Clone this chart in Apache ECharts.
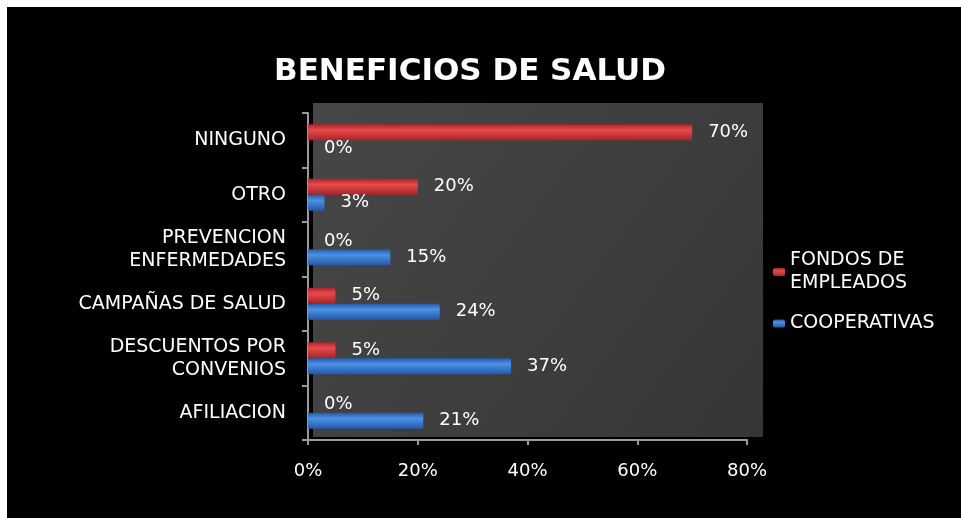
<!DOCTYPE html>
<html>
<head>
<meta charset="utf-8">
<script src="https://cdn.jsdelivr.net/npm/echarts@6/dist/echarts.min.js"></script>
<style>
	html, body { margin: 0; padding: 0; background: #000; overflow: hidden; width: 961px; height: 518px; }
	.edge { position: absolute; background: #fff; }
	#chart { position: absolute; left: 7px; top: 7px; width: 954px; height: 511px; }
</style>
</head>
<body>
<div class="edge" style="left:0;top:0;width:7px;height:518px"></div>
<div class="edge" style="left:0;top:0;width:961px;height:7px"></div>
<div id="chart"></div>
<script>
// bottom to top, as the category axis draws them
const categories = ["AFILIACION", "DESCUENTOS POR\nCONVENIOS", "CAMPAÑAS DE SALUD", "PREVENCION\nENFERMEDADES", "OTRO", "NINGUNO"]
const fondosValues = [0, 5, 5, 0, 20, 70]
const cooperativasValues = [21, 37, 24, 15, 3, 0]
const seriesNames = ["FONDOS DE\nEMPLEADOS", "COOPERATIVAS"]
const xTicks = [0, 20, 40, 60, 80]

const font = "'DejaVu Sans', sans-serif"

const tube = (dark, light) => new echarts.graphic.LinearGradient(0, 0, 0, 1, [
	{ offset: 0, color: dark },
	{ offset: 0.35, color: light },
	{ offset: 1, color: dark },
])

const labelStyle = {
	show: true,
	position: "right",
	distance: 16,
	color: "#fff",
	fontFamily: font,
	fontSize: 18,
	formatter: "{c}%",
}

const chart = echarts.init(document.getElementById("chart"))
chart.setOption({
	backgroundColor: "#000",
	title: {
		text: "BENEFICIOS DE SALUD",
		left: 262,
		top: 44,
		textStyle: {
			color: "#fff",
			fontFamily: "'DejaVu Sans', sans-serif",
			fontWeight: "bold",
			fontSize: 31,
		},
	},
	// back wall of the plot
	graphic: [{
		type: "rect",
		z: -10,
		shape: { x: 306, y: 96, width: 450, height: 334 },
		style: {
			fill: new echarts.graphic.LinearGradient(0, 0, 1, 1, [
				{ offset: 0, color: "#474747" },
				{ offset: 1, color: "#363636" },
			]),
		},
	}],
	legend: {
		orient: "vertical",
		left: 761,
		top: 237,
		itemWidth: 12,
		itemHeight: 8,
		itemGap: 17,
		data: seriesNames,
		textStyle: {
			color: "#fff",
			fontFamily: font,
			fontSize: 19,
			lineHeight: 23,
		},
	},
	grid: {
		left: 301,
		top: 106,
		width: 439,
		height: 327,
	},
	xAxis: {
		type: "value",
		min: xTicks[0],
		max: xTicks[xTicks.length - 1],
		interval: 20,
		axisLine: { show: true, lineStyle: { color: "#9a9a9a", width: 2 } },
		axisTick: { show: true, length: 5, lineStyle: { color: "#9a9a9a", width: 2 } },
		splitLine: { show: false },
		axisLabel: {
			color: "#fff",
			fontFamily: font,
			fontSize: 18,
			margin: 22,
			formatter: "{value}%",
		},
	},
	yAxis: {
		type: "category",
		data: categories,
		axisLine: { show: true, lineStyle: { color: "#9a9a9a", width: 2 } },
		axisTick: { show: true, length: 6, lineStyle: { color: "#9a9a9a", width: 2 } },
		axisLabel: {
			color: "#fff",
			fontFamily: font,
			fontSize: 19,
			lineHeight: 23,
			margin: 22,
		},
	},
	series: [
		{
			name: seriesNames[0],
			type: "bar",
			data: fondosValues,
			barWidth: 16,
			barGap: "0%",
			itemStyle: { color: tube("#a82428", "#e84a4c") },
			label: labelStyle,
		},
		{
			name: seriesNames[1],
			type: "bar",
			data: cooperativasValues,
			barWidth: 16,
			barGap: "0%",
			itemStyle: { color: tube("#2558a8", "#4a92e6") },
			label: labelStyle,
		},
	],
})
</script>
</body>
</html>
